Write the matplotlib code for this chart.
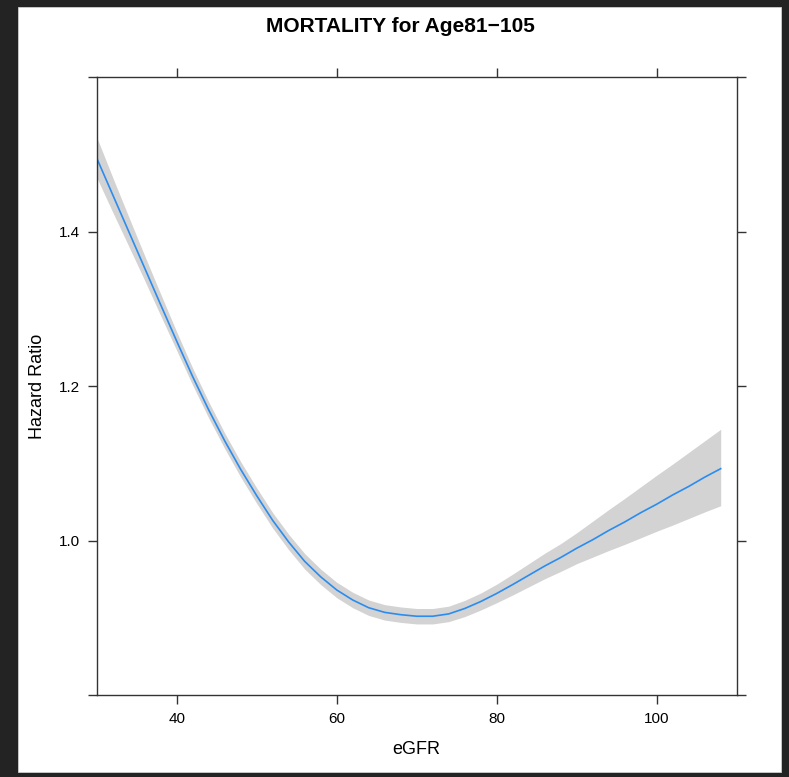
import matplotlib
matplotlib.use("Agg")
import matplotlib.pyplot as plt
from matplotlib.patches import Rectangle

plt.rcParams['font.family'] = ['Liberation Sans', 'DejaVu Sans']

# spline estimate and 95% band
egfr = [30, 32, 34, 36, 38, 40, 42, 44, 46, 48, 50, 52, 54, 56, 58, 60, 62, 64, 66, 68,
        70, 72, 74, 76, 78, 80, 82, 84, 86, 88, 90, 92, 94, 96, 98, 100, 102, 104, 106, 108]
hr = [1.495, 1.4475, 1.400, 1.3525, 1.305, 1.258, 1.212, 1.169, 1.129, 1.092, 1.058, 1.026,
      0.998, 0.973, 0.953, 0.936, 0.923, 0.913, 0.907, 0.904, 0.902, 0.902, 0.905, 0.912,
      0.921, 0.9315, 0.943, 0.955, 0.967, 0.978, 0.990, 1.001, 1.013, 1.024, 1.036, 1.047,
      1.059, 1.070, 1.082, 1.093]
hr_upper = [1.522, 1.470, 1.419, 1.3685, 1.319, 1.270, 1.223, 1.1795, 1.139, 1.102, 1.068,
            1.036, 1.008, 0.983, 0.963, 0.946, 0.933, 0.923, 0.917, 0.914, 0.912, 0.912,
            0.915, 0.9225, 0.932, 0.9435, 0.9565, 0.970, 0.9835, 0.996, 1.010, 1.025, 1.040,
            1.0545, 1.0695, 1.0845, 1.099, 1.114, 1.129, 1.144]
hr_lower = [1.470, 1.425, 1.381, 1.3365, 1.291, 1.246, 1.201, 1.1585, 1.119, 1.082, 1.048,
            1.016, 0.988, 0.963, 0.943, 0.926, 0.913, 0.903, 0.897, 0.894, 0.892, 0.892,
            0.895, 0.9015, 0.910, 0.9195, 0.9295, 0.940, 0.9505, 0.960, 0.970, 0.9785, 0.987,
            0.995, 1.0035, 1.012, 1.020, 1.0285, 1.037, 1.045]

xticks = [40, 60, 80, 100]
yticks = [0.8, 1.0, 1.2, 1.4, 1.6]
ytick_labels = ['', '1.0', '1.2', '1.4', '']

fig = plt.figure(figsize=(7.89, 7.77), dpi=100, facecolor='#232323')
# white page inside the dark screenshot frame
fig.patches.append(Rectangle((18 / 789, 1 - 772 / 777), 763 / 789, 765 / 777,
                             transform=fig.transFigure, facecolor='white',
                             edgecolor='#cfcfcf', linewidth=0.6, zorder=-10))

ax = fig.add_axes([0.1226, 0.1055, 0.8111, 0.7954])
ax.fill_between(egfr, hr_lower, hr_upper, color='#d3d3d3', linewidth=0)
ax.plot(egfr, hr, color='#2b8cf0', linewidth=1.2)

ax.set_xlim(30, 110)
ax.set_ylim(0.8, 1.6)
ax.set_xticks(xticks)
ax.set_yticks(yticks)
ax.set_yticklabels(ytick_labels)

for s in ax.spines.values():
    s.set_color('#333333')
    s.set_linewidth(1.0)

ax.tick_params(axis='both', which='both', direction='out', length=6.5, width=1.0,
               color='#333333', labelsize=11, pad=5.5,
               top=True, right=True, labeltop=False, labelright=False)

ax.set_xlabel('eGFR', fontsize=13, labelpad=11)
ax.set_ylabel('Hazard Ratio', fontsize=13, labelpad=9)
fig.text(0.507, 1 - 27 / 777, 'MORTALITY for Age81\u2212105', ha='center', va='center',
         fontsize=15, fontweight='bold')

fig.savefig('out.png', dpi=100, facecolor=fig.get_facecolor())
